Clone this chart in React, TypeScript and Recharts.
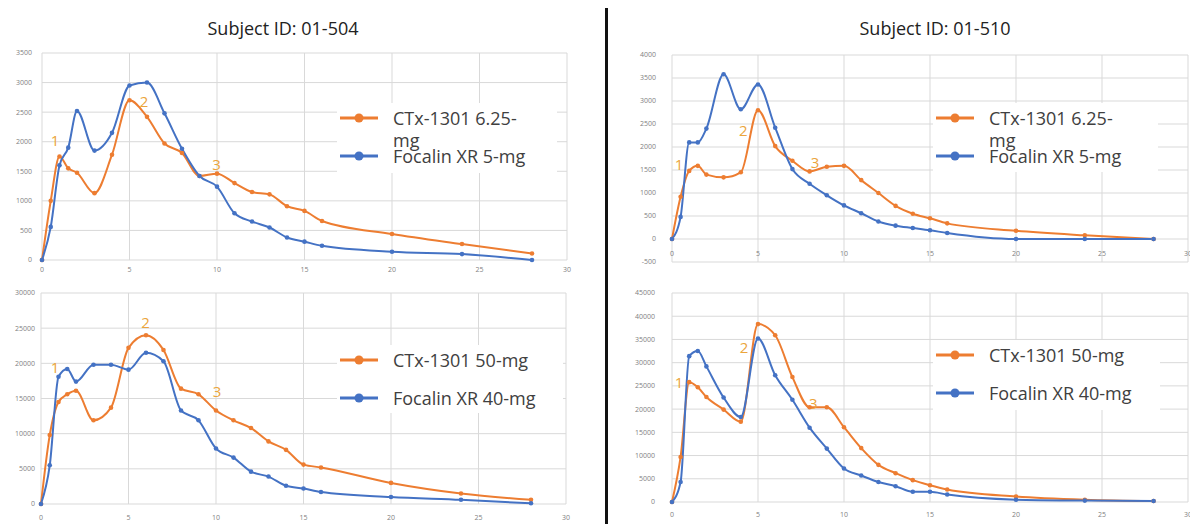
import React from "react";
import {
  LineChart,
  Line,
  XAxis,
  YAxis,
  CartesianGrid,
  Legend,
  ReferenceDot,
} from "recharts";

// sampling times (h)
const times = [0, 0.5, 1, 1.5, 2, 3, 4, 5, 6, 7, 8, 9, 10, 11, 12, 13, 14, 15, 16, 20, 24, 28];

// Subject 01-504
const ctxLow504 = [0, 1000, 1750, 1550, 1475, 1130, 1780, 2700, 2420, 1970, 1810, 1420, 1460, 1300, 1150, 1110, 910, 830, 660, 440, 270, 110];
const focLow504 = [0, 560, 1600, 1900, 2520, 1850, 2150, 2950, 3000, 2480, 1880, 1420, 1240, 790, 650, 550, 380, 310, 240, 140, 100, 0];
const ctxHigh504 = [0, 9800, 14500, 15600, 16100, 11900, 13700, 22200, 24000, 21900, 16400, 15600, 13300, 11900, 10800, 8900, 7700, 5600, 5200, 3000, 1500, 600];
const focHigh504 = [0, 5500, 18100, 19200, 17400, 19800, 19800, 19100, 21500, 20300, 13300, 11900, 7900, 6600, 4600, 3900, 2600, 2200, 1700, 1000, 600, 100];

// Subject 01-510
const ctxLow510 = [0, 920, 1480, 1590, 1400, 1340, 1450, 2800, 2020, 1700, 1470, 1570, 1590, 1280, 1000, 720, 550, 450, 340, 180, 80, 0];
const focLow510 = [0, 480, 2100, 2100, 2400, 3580, 2820, 3360, 2420, 1520, 1200, 950, 730, 560, 380, 290, 240, 190, 130, 0, 0, 0];
const ctxHigh510 = [0, 9700, 25800, 24700, 22600, 19900, 17300, 38300, 35900, 26900, 20400, 20400, 16100, 11600, 8000, 6200, 4700, 3600, 2700, 1200, 500, 200];
const focHigh510 = [0, 4300, 31400, 32500, 29200, 22500, 18300, 35200, 27300, 22000, 16000, 11500, 7200, 5700, 4300, 3400, 2200, 2200, 1600, 500, 300, 200];

const xTicks = [0, 5, 10, 15, 20, 25, 30];
const yTicks504Low = [0, 500, 1000, 1500, 2000, 2500, 3000, 3500];
const yTicks504High = [0, 5000, 10000, 15000, 20000, 25000, 30000];
const yTicks510Low = [-500, 0, 500, 1000, 1500, 2000, 2500, 3000, 3500, 4000];
const yTicks510High = [0, 5000, 10000, 15000, 20000, 25000, 30000, 35000, 40000, 45000];

const namesLow = ["CTx-1301 6.25-mg", "Focalin XR 5-mg"];
const namesHigh = ["CTx-1301 50-mg", "Focalin XR 40-mg"];
const titles = ["Subject ID: 01-504", "Subject ID: 01-510"];

// peak labels 1/2/3, in data units
const notes504Low = [
  { t: 0.74, v: 2030, text: "1" },
  { t: 5.83, v: 2690, text: "2" },
  { t: 9.98, v: 1620, text: "3" },
];
const notes504High = [
  { t: 0.8, v: 19500, text: "1" },
  { t: 5.98, v: 25900, text: "2" },
  { t: 10.06, v: 16000, text: "3" },
];
const notes510Low = [
  { t: 0.41, v: 1630, text: "1" },
  { t: 4.15, v: 2370, text: "2" },
  { t: 8.31, v: 1680, text: "3" },
];
const notes510High = [
  { t: 0.41, v: 25900, text: "1" },
  { t: 4.19, v: 33400, text: "2" },
  { t: 8.21, v: 21400, text: "3" },
];

const ORANGE = "#ED7D31";
const BLUE = "#4472C4";
const NOTE = "#EBA53C";
const TICK = "#7F7F7F";

type Note = { t: number; v: number; text: string };

type PanelProps = {
  left: number;
  top: number;
  width: number;
  height: number;
  margin: { top: number; right: number; bottom: number; left: number };
  yDomain: [number, number];
  yTicks: number[];
  yGap: number;
  xLabelDy: number;
  ctx: number[];
  foc: number[];
  names: string[];
  notes: Note[];
  legendBox: { left: number; top: number; width: number; height: number; textWidth: number };
};

const Panel: React.FC<PanelProps> = (p) => {
  const rows = times.map((t, i) => ({ t, ctx: p.ctx[i], foc: p.foc[i] }));

  const renderLegend = (props: any) => {
    const items = props.payload || [];
    return (
      <div
        style={{
          position: "relative",
          width: p.legendBox.width,
          height: p.legendBox.height,
          background: "#fff",
        }}
      >
        {items.map((it: any, i: number) => (
          <div
            key={i}
            style={{
              position: "absolute",
              left: 0,
              top: 15 + i * 38 - 11,
              display: "flex",
              alignItems: "flex-start",
            }}
          >
            <svg width={44} height={22} style={{ flex: "none" }}>
              <line x1={3} y1={11} x2={41} y2={11} stroke={it.color} strokeWidth={3} />
              <circle cx={22} cy={11} r={4.5} fill={it.color} />
            </svg>
            <span
              style={{
                marginLeft: 12,
                width: p.legendBox.textWidth,
                fontFamily: "'Open Sans', sans-serif",
                fontSize: 18,
                lineHeight: "22px",
                color: "#404040",
                textAlign: "left",
              }}
            >
              {it.value}
            </span>
          </div>
        ))}
      </div>
    );
  };

  const xTick = (tp: any) => (
    <text
      x={tp.x}
      y={tp.y + p.xLabelDy}
      textAnchor="middle"
      dominantBaseline="central"
      fontSize={7}
      fontFamily="'Open Sans', sans-serif"
      fill={TICK}
    >
      {tp.payload.value}
    </text>
  );

  return (
    <div style={{ position: "absolute", left: p.left, top: p.top }}>
      <LineChart width={p.width} height={p.height} data={rows} margin={p.margin}>
        <CartesianGrid stroke="#D9D9D9" strokeWidth={1} />
        <XAxis
          dataKey="t"
          type="number"
          domain={[0, 30]}
          ticks={xTicks}
          height={15}
          axisLine={false}
          tickLine={false}
          tickSize={0}
          tickMargin={0}
          tick={xTick}
          interval={0}
        />
        <YAxis
          type="number"
          domain={p.yDomain}
          ticks={p.yTicks}
          width={34}
          axisLine={false}
          tickLine={false}
          tickSize={0}
          tickMargin={p.yGap}
          interval={0}
          tick={{ fontSize: 7, fill: TICK, fontFamily: "'Open Sans', sans-serif" }}
        />
        <Legend
          verticalAlign="middle"
          align="center"
          layout="vertical"
          content={renderLegend}
          wrapperStyle={{
            left: p.legendBox.left,
            top: p.legendBox.top,
            width: p.legendBox.width,
            height: p.legendBox.height,
          }}
        />
        <Line
          type="monotone"
          dataKey="ctx"
          name={p.names[0]}
          stroke={ORANGE}
          strokeWidth={2}
          dot={{ r: 2.3, fill: ORANGE, stroke: ORANGE, strokeWidth: 0 }}
          isAnimationActive={false}
        />
        <Line
          type="monotone"
          dataKey="foc"
          name={p.names[1]}
          stroke={BLUE}
          strokeWidth={2}
          dot={{ r: 2.3, fill: BLUE, stroke: BLUE, strokeWidth: 0 }}
          isAnimationActive={false}
        />
        {p.notes.map((n, i) => (
          <ReferenceDot
            key={i}
            x={n.t}
            y={n.v}
            ifOverflow="visible"
            shape={(sp: any) => (
              <text
                x={sp.cx}
                y={sp.cy}
                textAnchor="middle"
                dominantBaseline="central"
                fontSize={15}
                fontFamily="'Open Sans', sans-serif"
                fill={NOTE}
              >
                {n.text}
              </text>
            )}
          />
        ))}
      </LineChart>
    </div>
  );
};

export default function App() {
  return (
    <div
      style={{
        position: "absolute",
        left: 0,
        top: 0,
        width: 1190,
        height: 524,
        background: "#fff",
        overflow: "hidden",
      }}
    >
      <div
        style={{
          position: "absolute",
          left: 183,
          top: 14,
          width: 200,
          textAlign: "center",
          fontFamily: "'Open Sans', sans-serif",
          fontSize: 18,
          lineHeight: "28px",
          color: "#222",
        }}
      >
        {titles[0]}
      </div>
      <div
        style={{
          position: "absolute",
          left: 835,
          top: 14,
          width: 200,
          textAlign: "center",
          fontFamily: "'Open Sans', sans-serif",
          fontSize: 18,
          lineHeight: "28px",
          color: "#222",
        }}
      >
        {titles[1]}
      </div>
      <div
        style={{
          position: "absolute",
          left: 605,
          top: 8,
          width: 3,
          height: 516,
          background: "#111",
        }}
      />

      <Panel
        left={0}
        top={40}
        width={580}
        height={235}
        margin={{ top: 13, right: 13, bottom: 0, left: 8 }}
        yDomain={[0, 3500]}
        yTicks={yTicks504Low}
        yGap={10}
        xLabelDy={9}
        ctx={ctxLow504}
        foc={focLow504}
        names={namesLow}
        notes={notes504Low}
        legendBox={{ left: 337, top: 63, width: 220, height: 70, textWidth: 140 }}
      />
      <Panel
        left={0}
        top={280}
        width={580}
        height={244}
        margin={{ top: 13, right: 14, bottom: 5, left: 7 }}
        yDomain={[0, 30000]}
        yTicks={yTicks504High}
        yGap={6}
        xLabelDy={13}
        ctx={ctxHigh504}
        foc={focHigh504}
        names={namesHigh}
        notes={notes504High}
        legendBox={{ left: 337, top: 65, width: 226, height: 68, textWidth: 170 }}
      />
      <Panel
        left={620}
        top={40}
        width={570}
        height={237}
        margin={{ top: 15, right: 2, bottom: 0, left: 18 }}
        yDomain={[-500, 4000]}
        yTicks={yTicks510Low}
        yGap={16}
        xLabelDy={-9}
        ctx={ctxLow510}
        foc={focLow510}
        names={namesLow}
        notes={notes510Low}
        legendBox={{ left: 313, top: 63, width: 225, height: 69, textWidth: 140 }}
      />
      <Panel
        left={620}
        top={280}
        width={570}
        height={244}
        margin={{ top: 13, right: 2, bottom: 7, left: 18 }}
        yDomain={[0, 45000]}
        yTicks={yTicks510High}
        yGap={17}
        xLabelDy={12}
        ctx={ctxHigh510}
        foc={focHigh510}
        names={namesHigh}
        notes={notes510High}
        legendBox={{ left: 313, top: 60, width: 227, height: 70, textWidth: 170 }}
      />
    </div>
  );
}
